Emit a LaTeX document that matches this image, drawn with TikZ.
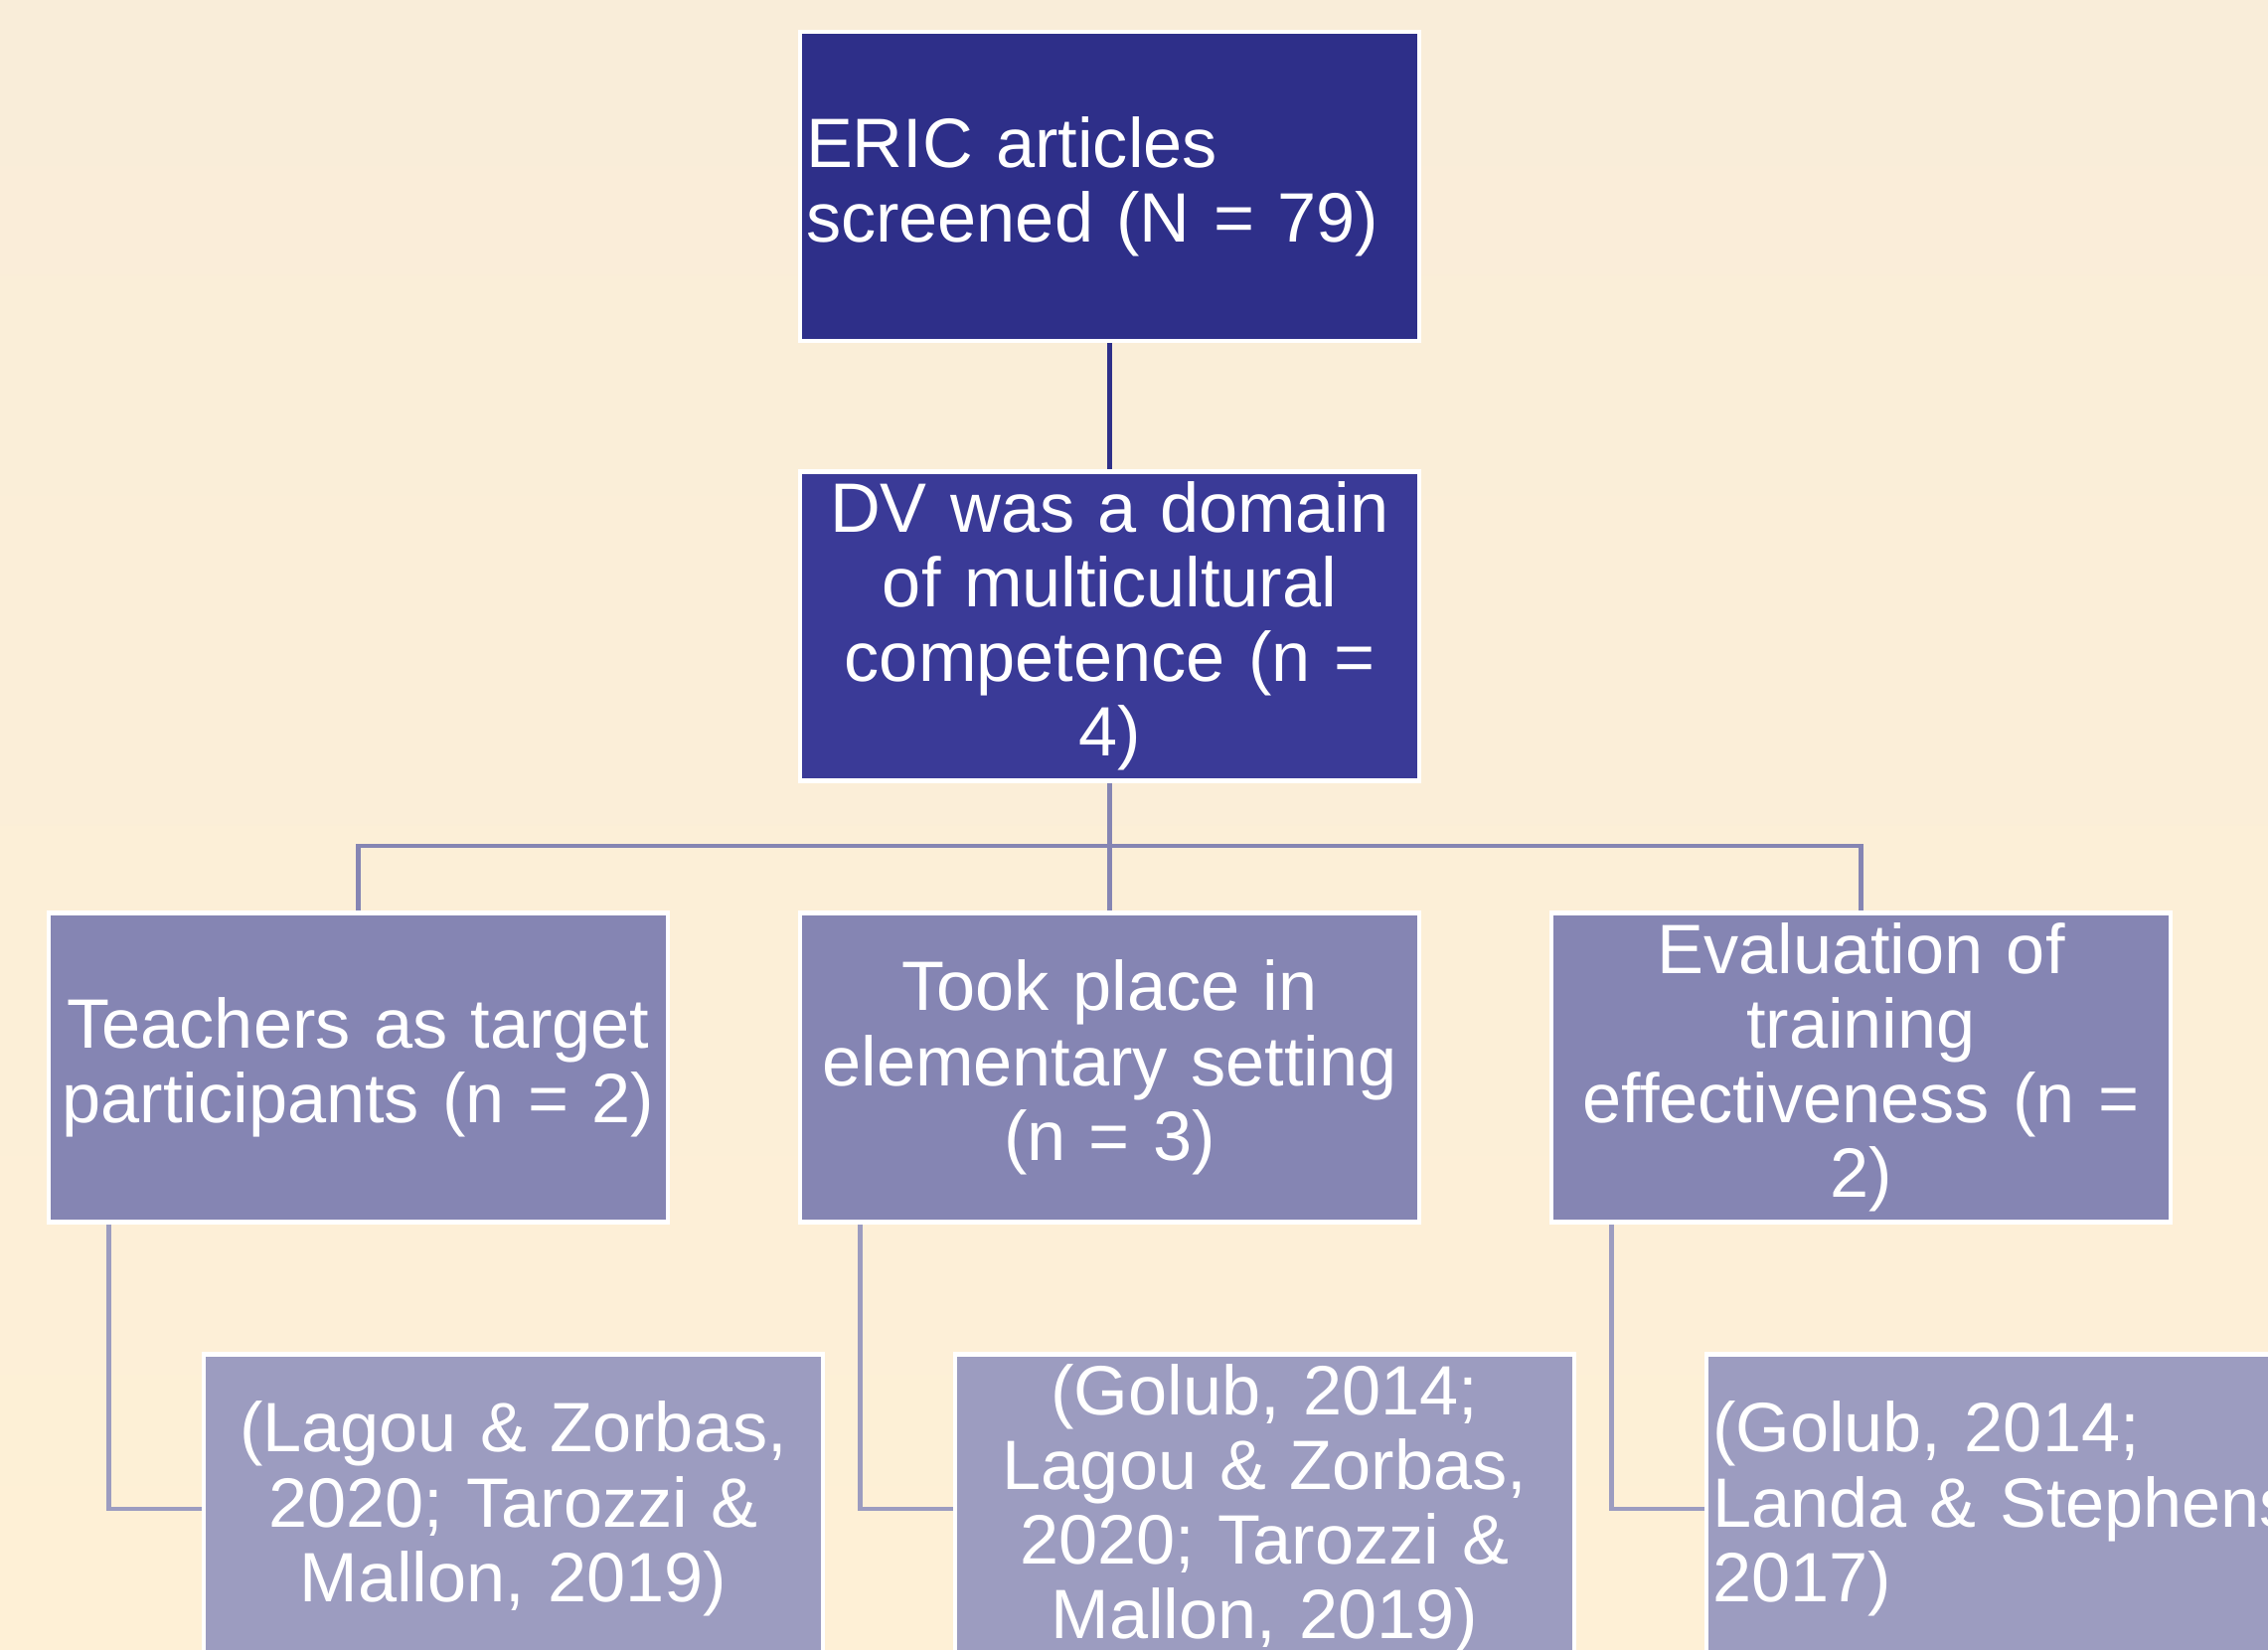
\documentclass[tikz,border=0pt]{standalone}
\usepackage{fontspec}
\setmainfont{Liberation Sans}
\usetikzlibrary{positioning}
\definecolor{bgtop}{RGB}{249,237,217}
\definecolor{bgbot}{RGB}{254,240,214}
\definecolor{navy}{RGB}{46,47,137}
\definecolor{indigo}{RGB}{58,58,151}
\definecolor{lilac}{RGB}{133,133,179}
\definecolor{paleli}{RGB}{156,156,192}

\begin{document}
\begin{tikzpicture}[
    box/.style={draw=white,line width=1.3pt,text=white,minimum height=3.11cm,
        inner xsep=0.06cm,inner ysep=0pt,text width=6.11cm,align=center,
        font=\fontsize{20}{21.4}\selectfont},
    link/.style={line width=1.3pt}
  ]
            \useasboundingbox (0,0) rectangle (22.82,16.6);
            \shade[top color=bgtop,bottom color=bgbot] (0,0) rectangle (22.82,16.6);
            \node[box,fill=navy,align=left] (eric) at (11.165,14.725) {ERIC articles\\screened (N = 79)};
            \node[box,fill=indigo] (dv) at (11.165,10.30) {DV was a domain\\of multicultural\\competence (n =\\4)};
            \node[box,fill=lilac] (tch) at (3.605,5.86) {Teachers as target\\participants (n = 2)};
            \node[box,fill=lilac] (elem) at (11.165,5.86) {Took place in\\elementary setting\\(n = 3)};
            \node[box,fill=lilac] (eval) at (18.725,5.86) {Evaluation of\\training\\effectiveness (n =\\2)};
            \node[box,fill=paleli] (refa) at (5.165,1.42) {(Lagou \& Zorbas,\\2020; Tarozzi \&\\Mallon, 2019)};
            \node[box,fill=paleli] (refb) at (12.725,1.42) {(Golub, 2014;\\Lagou \& Zorbas,\\2020; Tarozzi \&\\Mallon, 2019)};
            \node[box,fill=paleli,align=left] (refc) at (20.285,1.42) {(Golub, 2014;\\Landa \& Stephens,\\2017)};
            \coordinate (bar) at (11.165,8.09);
            \draw[link,navy] (eric) -- (dv);
            \draw[link,lilac] (dv) -- (bar) -- (elem);
            \draw[link,lilac] (tch.north) |- (bar) -| (eval.north);
            \draw[link,paleli] ([xshift=0.63cm]tch.south west) |- (refa.west);
            \draw[link,paleli] ([xshift=0.63cm]elem.south west) |- (refb.west);
            \draw[link,paleli] ([xshift=0.63cm]eval.south west) |- (refc.west);
        \end{tikzpicture}
\end{document}
